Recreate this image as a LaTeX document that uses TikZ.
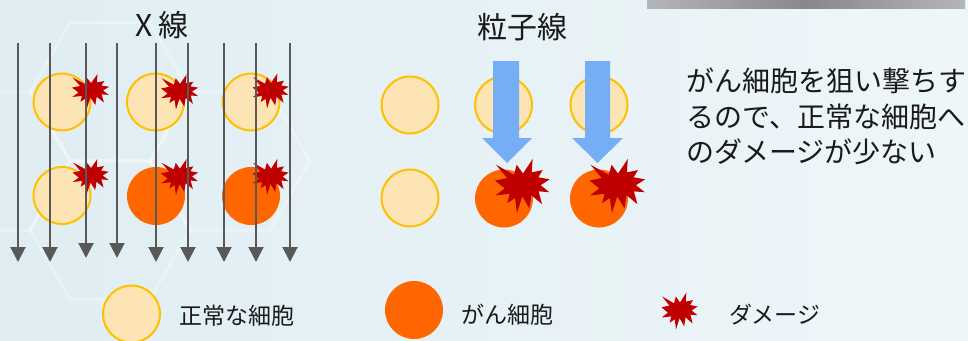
\documentclass[tikz,border=0pt]{standalone}
\usepackage{fontspec}
\newfontfamily\jp{Noto Sans CJK JP}
\usetikzlibrary{arrows.meta}

\definecolor{bgL}{HTML}{DFEDF2}
\definecolor{bgR}{HTML}{EEF6F9}
\definecolor{normfill}{HTML}{FCE4B4}
\definecolor{normline}{HTML}{FFC000}
\definecolor{cancer}{HTML}{FF6600}
\definecolor{burstred}{HTML}{C00000}
\definecolor{ray}{HTML}{595959}
\definecolor{beam}{HTML}{75AEF5}
\definecolor{barmid}{HTML}{87888C}
\definecolor{barend}{HTML}{B4B5B8}
\definecolor{ink}{HTML}{1A1A1A}

\tikzset{
  normal/.style={circle, fill=normfill, draw=normline, line width=2pt,
                 minimum size=57pt, inner sep=0pt},
  cancercell/.style={circle, fill=cancer, minimum size=58pt, inner sep=0pt},
  xray/.style={draw=ray, line width=2pt, -{Triangle[width=15pt,length=15pt]}},
  beamarrow/.style={fill=beam},
  hex/.style={draw=white, line width=3pt, opacity=0.3, line join=round},
  title/.style={font=\jp\fontsize{30}{30}\selectfont, text=ink, inner sep=0pt},
  body/.style={font=\jp\fontsize{28}{28}\selectfont, text=ink, anchor=west, inner sep=0pt},
  legendtext/.style={font=\jp\fontsize{23}{23}\selectfont, text=ink, anchor=west, inner sep=0pt},
  % irregular explosion burst in a unit box centred on the origin
  burst/.pic={
    \fill[burstred] (0,-0.2315) -- (0.1723,-0.5) -- (0.1553,-0.2535) -- (0.3509,-0.2937)
      -- (0.2732,-0.1613) -- (0.4767,-0.1233) -- (0.3151,-0.0150) -- (0.4708,0.1153)
      -- (0.2795,0.0992) -- (0.3400,0.3377) -- (0.1491,0.1693) -- (0.1133,0.4138)
      -- (-0.0124,0.1914) -- (-0.1072,0.5) -- (-0.1428,0.2235) -- (-0.2795,0.3156)
      -- (-0.2376,0.1452) -- (-0.4938,0.1753) -- (-0.3277,0.0451) -- (-0.5,-0.1012)
      -- (-0.2858,-0.1474) -- (-0.4829,-0.3937) -- (-0.1615,-0.2074) -- (-0.1133,-0.3937)
      -- cycle;
  }
}

\begin{document}
\begin{tikzpicture}[x=1pt,y=-1pt]
  \useasboundingbox (0,0) rectangle (968,340);
  \clip (0,0) rectangle (968,340);

  % background
  \shade[left color=bgL, right color=bgR] (0,0) rectangle (968,340);
  \draw[hex] (230,161) ++(80,0) -- ++(120:80) -- ++(180:80) -- ++(240:80) -- ++(300:80) -- ++(0:80) -- cycle;
  \draw[hex] (110,230) ++(80,0) -- ++(120:80) -- ++(180:80) -- ++(240:80) -- ++(300:80) -- ++(0:80) -- cycle;
  \draw[hex] (110,92) ++(80,0) -- ++(120:80) -- ++(180:80) -- ++(240:80) -- ++(300:80) -- ++(0:80) -- cycle;
  \draw[hex] (-10,161) ++(80,0) -- ++(120:80) -- ++(180:80) -- ++(240:80) -- ++(300:80) -- ++(0:80) -- cycle;

  % grey bar at the top
  \shade[left color=barend, right color=barend, middle color=barmid] (647,0) rectangle (965,8);

  % ---------------- X-rays ----------------
  \node[title] (xtitle) at (162,25) {X\hspace{5pt}線};

  \node[normal]     (xa1) at (62,102) {};
  \node[normal]     (xb1) at (155.5,102) {};
  \node[normal]     (xc1) at (251,102) {};
  \node[normal]     (xa2) at (62,195.5) {};
  \node[cancercell] (xb2) at (156,196) {};
  \node[cancercell] (xc2) at (251,196) {};

  \pic[xscale=38,yscale=34] at (91,91)   {burst};
  \pic[xscale=38,yscale=35] at (180,92)  {burst};
  \pic[xscale=37,yscale=35] at (271,91)  {burst};
  \pic[xscale=37,yscale=34] at (91,176)  {burst};
  \pic[xscale=38,yscale=36] at (180,177) {burst};
  \pic[xscale=37,yscale=36] at (271,177) {burst};

  \foreach \x/\y in {18/262, 50/262, 86/258, 117/258, 156/262, 188/262, 224/262, 256/262, 290/262}{
    \coordinate (rs) at (\x,43);
    \coordinate (re) at (\x,\y);
    \draw[xray] (rs) -- (re);
  }

  % ---------------- particle beam ----------------
  \node[title] (ptitle) at (522,27) {粒子線};

  \node[normal]     (pa1) at (410,105) {};
  \node[normal]     (pb1) at (503.5,105) {};
  \node[normal]     (pc1) at (599,105) {};
  \node[normal]     (pa2) at (410,198) {};
  \node[cancercell] (pb2) at (504,198.5) {};
  \node[cancercell] (pc2) at (599,198.5) {};

  \fill[beamarrow] (493,61) -- (519,61) -- (519,138) -- (532,138) -- (507,163)
                   -- (482,138) -- (493,138) -- cycle;
  \fill[beamarrow] (585,61) -- (610,61) -- (610,138) -- (623,138) -- (597.5,163)
                   -- (572,138) -- (585,138) -- cycle;

  \pic[xscale=56,yscale=54] at (523,186) {burst};
  \pic[xscale=57,yscale=54] at (618,186) {burst};

  % ---------------- explanation ----------------
  \node[body] (d1) at (686,81)    {がん細胞を狙い撃ちす};
  \node[body] (d2) at (686,116.5) {るので、正常な細胞へ};
  \node[body] (d3) at (686,152)   {のダメージが少ない};

  % ---------------- legend ----------------
  \node[normal]     (lnormal) at (131.5,314) {};
  \node[legendtext] (lnormalt) at (179,316) {正常な細胞};
  \node[cancercell] (lcancer) at (414,310) {};
  \node[legendtext] (lcancert) at (461,315) {がん細胞};
  \pic[xscale=37,yscale=37] at (680,311) {burst};
  \node[legendtext] (ldamaget) at (729,315) {ダメージ};
\end{tikzpicture}
\end{document}
